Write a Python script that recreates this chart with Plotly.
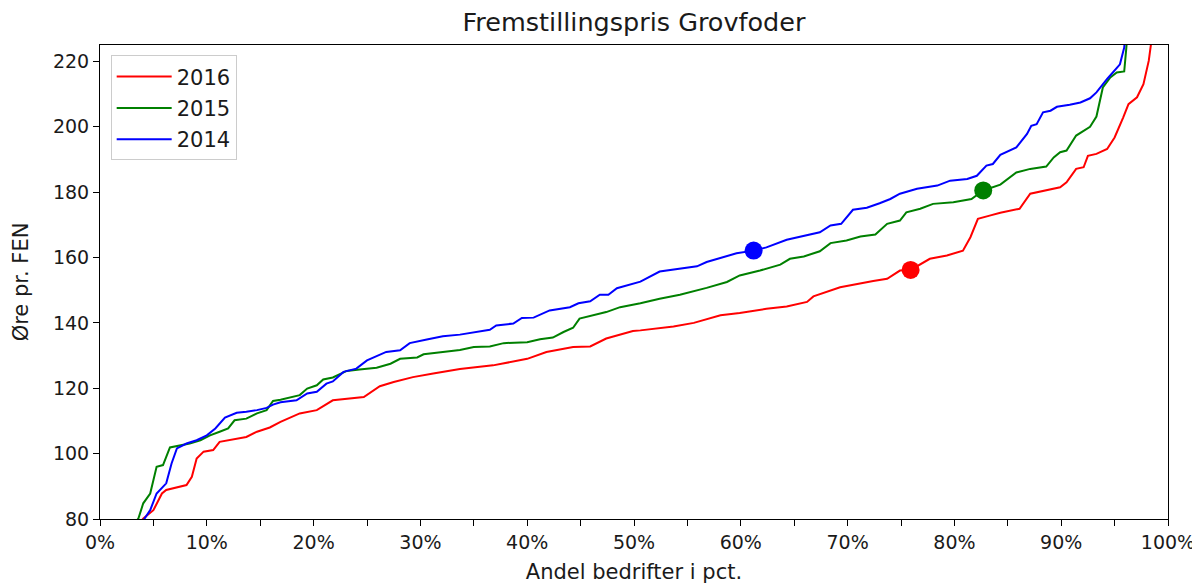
import plotly.graph_objects as go

# Andel bedrifter (pct.) og fremstillingspris (øre pr. FEN)
pct_2016 = [3.9, 4.06, 5.0, 5.8, 6.2, 7.2, 8.1, 8.6, 9.05, 9.7, 10.6, 11.2, 12.5, 13.7, 14.7, 15.9,
            16.9, 18.7, 20.3, 21.1, 21.8, 24.7, 26.2, 27.5, 29.3, 31.2, 33.7, 36.8, 40.0, 41.8, 44.3,
            45.9, 47.4, 49.9, 50.6, 53.7, 55.6, 58.1, 59.9, 62.4, 64.3, 66.2, 66.8, 69.3, 70.9, 72.4,
            73.7, 74.9, 75.9, 77.7, 79.3, 80.8, 81.5, 82.2, 83.3, 84.3, 86.1, 87.1, 89.9, 90.5, 91.4,
            92.1, 92.5, 93.3, 94.3, 95.0, 95.8, 96.3, 97.1, 97.7, 98.2, 98.4, 98.6]
fen_2016 = [79.5, 80.2, 82.7, 87.8, 88.9, 89.7, 90.4, 92.9, 98.5, 100.6, 101.1, 103.6, 104.4, 105.1,
            106.7, 108.0, 109.7, 112.3, 113.3, 114.8, 116.3, 117.3, 120.6, 121.9, 123.4, 124.5, 125.9,
            127.0, 129.0, 131.1, 132.6, 132.8, 135.2, 137.5, 137.7, 138.9, 140.0, 142.3, 143.0, 144.3,
            145.0, 146.4, 148.1, 150.9, 152.0, 152.8, 153.5, 156.0, 156.2, 159.6, 160.6, 162.1, 166.2,
            171.8, 172.8, 173.7, 174.9, 179.5, 181.5, 183.0, 187.1, 187.6, 191.1, 191.7, 193.2, 196.7,
            202.8, 206.9, 209.0, 213.0, 220.2, 224.2, 230.0]

pct_2015 = [3.4, 3.6, 4.05, 4.7, 5.3, 5.9, 6.55, 7.5, 8.4, 9.4, 10.3, 11.2, 12.0, 12.6, 13.7, 14.7,
            15.6, 16.2, 16.9, 18.7, 19.4, 20.3, 20.9, 21.8, 23.1, 24.3, 25.9, 27.2, 28.1, 29.7, 30.3,
            32.1, 33.7, 35.0, 36.5, 37.8, 40.0, 41.2, 42.4, 43.4, 44.3, 44.9, 46.2, 47.4, 48.7, 50.6,
            52.4, 54.3, 56.8, 58.7, 59.9, 61.8, 63.7, 64.6, 65.9, 67.4, 68.4, 69.9, 71.2, 72.6, 73.7,
            74.9, 75.5, 76.8, 78.0, 79.9, 81.6, 82.7, 84.3, 85.8, 87.1, 88.6, 89.3, 89.9, 90.5, 91.4,
            92.7, 93.3, 93.9, 94.6, 95.2, 95.9, 96.1, 96.2]
fen_2015 = [79.3, 80.2, 84.8, 87.8, 96.0, 96.5, 101.9, 102.6, 103.1, 104.1, 105.6, 106.7, 107.7, 110.2,
            110.7, 112.3, 113.3, 116.1, 116.5, 117.9, 119.9, 120.9, 122.7, 123.3, 125.3, 125.7, 126.3,
            127.5, 129.0, 129.4, 130.4, 131.1, 131.7, 132.6, 132.8, 133.8, 134.1, 135.0, 135.5, 137.2,
            138.5, 141.3, 142.3, 143.3, 144.8, 146.0, 147.4, 148.6, 150.7, 152.5, 154.5, 156.0, 157.8,
            159.6, 160.3, 161.9, 164.4, 165.2, 166.4, 167.0, 170.3, 171.3, 173.8, 174.9, 176.4, 176.9,
            177.9, 180.5, 182.3, 186.0, 187.1, 187.8, 190.6, 192.2, 192.7, 197.3, 200.0, 203.1, 212.0,
            215.1, 216.6, 216.9, 224.2, 229.0]

pct_2014 = [4.0, 4.2, 4.7, 5.3, 6.2, 6.7, 7.2, 8.1, 9.05, 10.0, 10.8, 11.7, 12.8, 13.7, 14.7, 15.6,
            16.2, 16.9, 18.4, 19.4, 20.3, 21.2, 21.8, 22.8, 24.0, 25.0, 25.9, 26.8, 28.1, 29.0, 30.6,
            32.1, 33.7, 35.6, 36.5, 37.1, 38.7, 39.5, 40.6, 42.1, 44.0, 44.8, 45.9, 46.8, 47.6, 48.4,
            50.6, 52.4, 54.0, 55.9, 56.8, 58.1, 59.6, 61.2, 62.4, 64.3, 66.2, 67.4, 68.4, 69.4, 70.5,
            71.8, 73.0, 74.0, 74.9, 76.5, 78.4, 79.6, 81.2, 82.1, 83.0, 83.6, 84.3, 85.8, 86.8, 87.2,
            87.7, 88.3, 89.0, 89.6, 90.8, 91.8, 92.7, 93.3, 94.3, 95.2, 95.5, 95.9, 96.0]
fen_2014 = [79.3, 80.2, 82.7, 87.8, 90.9, 97.0, 101.6, 103.1, 104.1, 105.6, 107.7, 111.0, 112.5, 112.8,
            113.3, 114.0, 115.0, 115.7, 116.3, 118.4, 118.9, 121.4, 122.1, 125.0, 126.0, 128.5, 129.8,
            131.1, 131.6, 133.8, 134.9, 135.9, 136.4, 137.5, 137.9, 139.2, 139.8, 141.5, 141.6, 143.8,
            144.8, 146.0, 146.6, 148.6, 148.6, 150.6, 152.6, 155.7, 156.4, 157.3, 158.6, 159.9, 161.3,
            162.1, 163.1, 165.4, 166.7, 167.7, 169.8, 170.3, 174.6, 175.2, 176.6, 177.9, 179.5, 181.0,
            182.0, 183.5, 184.0, 185.0, 188.1, 188.6, 191.4, 193.7, 197.8, 200.3, 200.8, 204.4, 204.9,
            206.1, 206.7, 207.4, 208.7, 210.5, 214.6, 218.1, 219.1, 224.2, 228.0]

# markerede bedrifter (pct., øre pr. FEN)
marker_pct = {"2016": 75.9, "2015": 82.7, "2014": 61.2}
marker_fen = {"2016": 156.2, "2015": 180.5, "2014": 162.1}

series = [
    ("2016", pct_2016, fen_2016, "#ff0000"),
    ("2015", pct_2015, fen_2015, "#008000"),
    ("2014", pct_2014, fen_2014, "#0000ff"),
]

font_family = "DejaVu Sans, sans-serif"
text_color = "#1a1a1a"

# siden har 8 px body-margin, så figuren gøres 8 px mindre og marginerne justeres
W, H = 1192, 577

fig = go.Figure()

for name, pct, fen, color in series:
    fig.add_trace(go.Scatter(
        x=[p / 100 for p in pct], y=fen,
        mode="lines", name=name, legendgroup=name,
        line=dict(color=color, width=2),
    ))

for name, pct, fen, color in series:
    fig.add_trace(go.Scatter(
        x=[marker_pct[name] / 100], y=[marker_fen[name]],
        mode="markers", showlegend=False,
        marker=dict(color=color, size=18),
    ))

fig.update_layout(
    width=W, height=H,
    paper_bgcolor="white", plot_bgcolor="white",
    margin=dict(l=92, r=32, t=37, b=66),
    font=dict(family=font_family, size=19, color=text_color),
    title=dict(
        text="Fremstillingspris Grovfoder",
        x=0.5, xref="paper", xanchor="center",
        y=1 - 14 / H, yref="container", yanchor="middle",
        automargin=False,
        font=dict(size=25.5, color=text_color),
    ),
    legend=dict(
        x=0.01, y=0.978, xanchor="left", yanchor="top",
        bgcolor="rgba(255,255,255,0.8)", bordercolor="#cccccc", borderwidth=1,
        font=dict(size=21), tracegroupgap=1, itemwidth=55,
    ),
    showlegend=True,
)

fig.update_xaxes(
    range=[0, 1], tickformat=".0%", dtick=0.1, tick0=0,
    ticks="outside", ticklen=6, tickcolor="black",
    minor=dict(dtick=0.05, ticks="outside", ticklen=6, tickcolor="black"),
    showgrid=False, zeroline=False, automargin=False,
    showline=True, linecolor="black", linewidth=1, mirror=True,
    title=dict(text="Andel bedrifter i pct.", standoff=12, font=dict(size=21)),
)

fig.update_yaxes(
    range=[80, 225], dtick=20, tick0=80,
    ticks="outside", ticklen=6, tickcolor="black",
    showgrid=False, zeroline=False, automargin=False,
    showline=True, linecolor="black", linewidth=1, mirror=True,
    title=dict(text="Øre pr. FEN", standoff=18, font=dict(size=21)),
)

fig.write_html("out.html")
